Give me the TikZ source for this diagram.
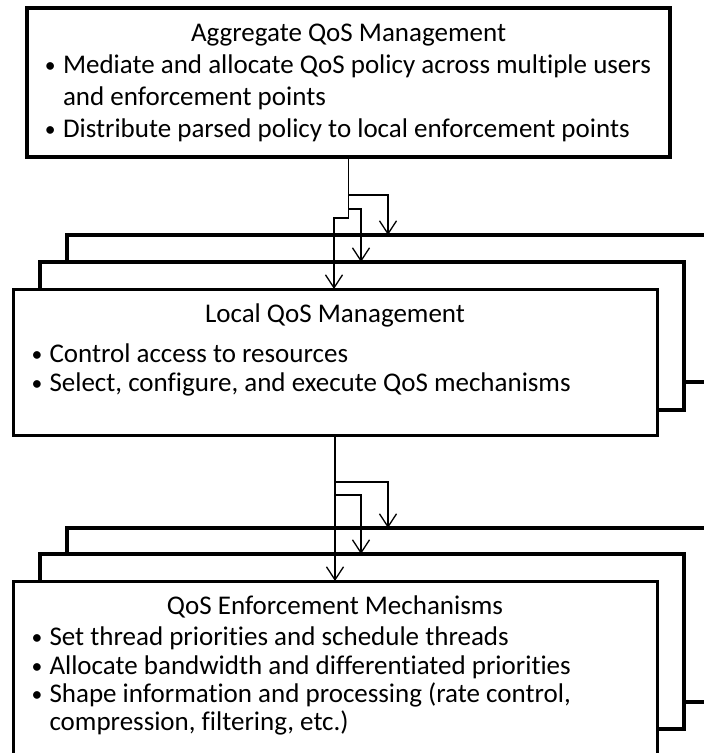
\documentclass[tikz,border=0pt]{standalone}
\usepackage{fontspec}
\setmainfont[Ligatures=NoCommon]{Carlito}
\usetikzlibrary{arrows.meta}
\tikzset{
  boxfront/.style={draw, line width=3pt, fill=white, rectangle, inner sep=0pt, outer sep=0pt, anchor=north west},
  boxback/.style={draw, line width=3.5pt, fill=white, rectangle, inner sep=0pt, outer sep=0pt, anchor=north west},
  conn/.style={draw, line width=1.3pt},
  stem/.style={draw, line width=1.8pt},
  arr/.style={-{Straight Barb[length=13pt,width=17pt,line width=1.3pt]}},
  txt/.style={inner sep=0pt, outer sep=0pt, font=\fontsize{27}{31}\selectfont},
}
\newcommand{\bul}{\llap{\makebox[18pt][l]{\raisebox{1pt}{\scalebox{0.8}{\textbullet}}}}}
\begin{document}
\begin{tikzpicture}[x=1pt,y=-1pt]
\useasboundingbox (0,0) rectangle (704,753);

% top box
\node[boxback, minimum width=643, minimum height=149] (agg) at (27,8) {};
\node[txt, anchor=base] (t0) at (348.5,41) {Aggregate QoS Management};
\node[txt, anchor=base west] (t1) at (63,73) {\bul Mediate and allocate QoS policy across multiple users};
\node[txt, anchor=base west] (t2) at (63,105) {and enforcement points};
\node[txt, anchor=base west] (t3) at (63,137) {\bul Distribute parsed policy to local enforcement points};

% local group
\node[boxback, minimum width=663, minimum height=147] (lb) at (67,235) {};
\node[boxback, minimum width=644, minimum height=148] (lm) at (40,262) {};
\node[boxfront, minimum width=644, minimum height=146] (lf) at (13,289) {};
\node[txt, anchor=base] (l0) at (335,322) {Local QoS Management};
\node[txt, anchor=base west] (l1) at (49.5,362) {\bul Control access to resources};
\node[txt, anchor=base west] (l2) at (49.5,391) {\bul Select, configure, and execute QoS mechanisms};

% enforcement group
\node[boxback, minimum width=663, minimum height=174] (eb) at (67,528) {};
\node[boxback, minimum width=644, minimum height=175] (em) at (40,554) {};
\node[boxfront, minimum width=644, minimum height=209] (ef) at (13,581) {};
\node[txt, anchor=base] (e0) at (335,614) {QoS Enforcement Mechanisms};
\node[txt, anchor=base west] (e1) at (49.5,645) {\bul Set thread priorities and schedule threads};
\node[txt, anchor=base west] (e2) at (49.5,674) {\bul Allocate bandwidth and differentiated priorities};
\node[txt, anchor=base west] (e3) at (49.5,702) {\bul Shape information and processing (rate control,};
\node[txt, anchor=base west] (e4) at (49.5,730) {compression, filtering, etc.)};

% connectors group 1
\coordinate (a1) at (388,195);
\coordinate (a2) at (361,209);
\coordinate (j1) at (348.5,218);
\coordinate (j2) at (334,218);
\draw[stem] (agg.south) -- (j1);
\draw[conn, arr] (j1) -- (j2) -- (j2 |- lf.north);
\draw[conn, arr] (agg.south |- a1) -- (a1) -- (a1 |- lb.north);
\draw[conn, arr] (agg.south |- a2) -- (a2) -- (a2 |- lm.north);

% connectors group 2
\coordinate (b1) at (388,482);
\coordinate (b2) at (361,495);
\draw[conn, arr] (lf.south) -- (lf.south |- ef.north);
\draw[conn, arr] (lf.south |- b1) -- (b1) -- (b1 |- eb.north);
\draw[conn, arr] (lf.south |- b2) -- (b2) -- (b2 |- em.north);
\end{tikzpicture}
\end{document}
